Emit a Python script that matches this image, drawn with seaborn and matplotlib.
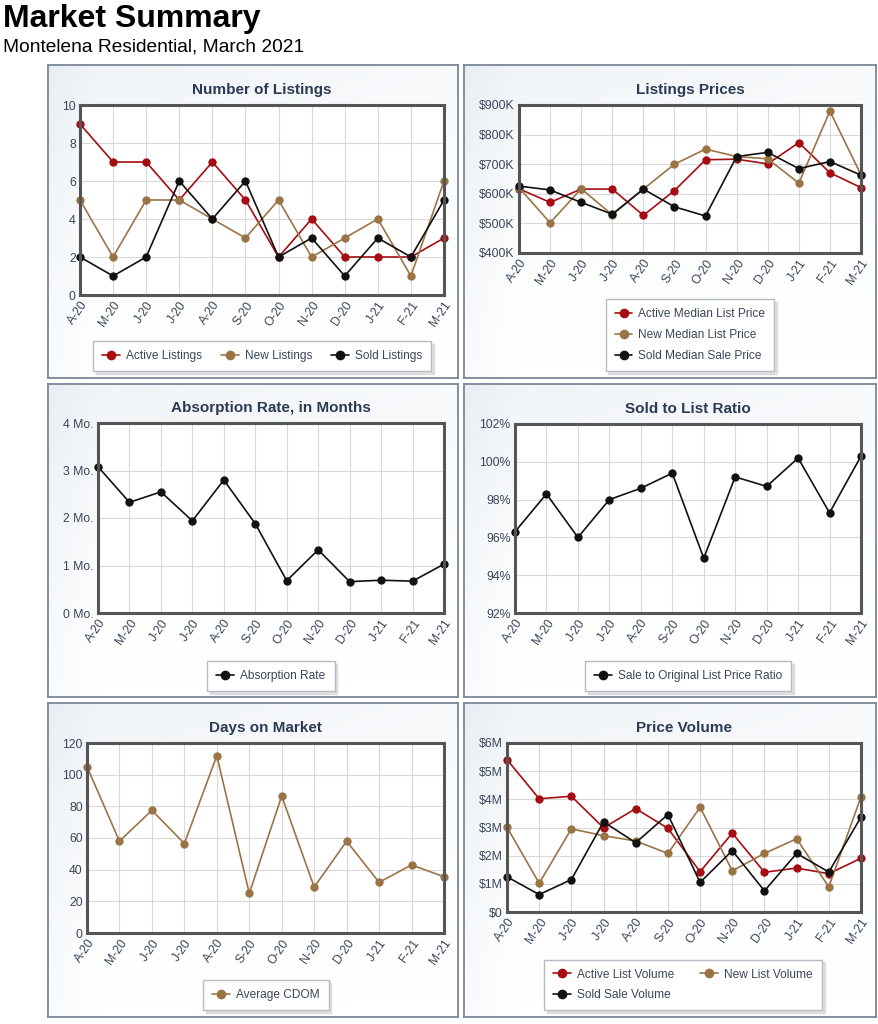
import numpy as np
import pandas as pd
import matplotlib
matplotlib.use("Agg")
import matplotlib.pyplot as plt
import seaborn as sns
from matplotlib.lines import Line2D
from matplotlib.ticker import FuncFormatter
from matplotlib.colors import LinearSegmentedColormap
from matplotlib.transforms import ScaledTranslation

# ---------------- data ----------------
months = ["A-20", "M-20", "J-20", "J-20", "A-20", "S-20", "O-20", "N-20", "D-20", "J-21", "F-21", "M-21"]

active_listings = [9, 7, 7, 5, 7, 5, 2, 4, 2, 2, 2, 3]
new_listings = [5, 2, 5, 5, 4, 3, 5, 2, 3, 4, 1, 6]
sold_listings = [2, 1, 2, 6, 4, 6, 2, 3, 1, 3, 2, 5]

# thousands of dollars
active_median_price = [617, 571, 616, 616, 527, 611, 715, 717, 701, 773, 671, 621]
new_median_price = [621, 502, 617, 529, 616, 700, 751, 726, 718, 636, 879, 664]
sold_median_price = [626, 613, 571, 531, 616, 556, 525, 726, 740, 685, 709, 663]

absorption_rate = [3.08, 2.33, 2.55, 1.94, 2.80, 1.88, 0.68, 1.33, 0.66, 0.69, 0.67, 1.03]

sale_to_list_ratio = [96.3, 98.3, 96.0, 98.0, 98.6, 99.4, 94.9, 99.2, 98.7, 100.2, 97.3, 100.3]

average_cdom = [105, 58, 77.5, 56.5, 112, 25, 86.5, 29, 58, 32, 43, 35.5]

# millions of dollars
active_list_volume = [5.41, 4.02, 4.11, 2.99, 3.67, 2.97, 1.43, 2.80, 1.41, 1.56, 1.36, 1.91]
new_list_volume = [3.01, 1.02, 2.95, 2.71, 2.52, 2.08, 3.72, 1.46, 2.08, 2.60, 0.89, 4.09]
sold_sale_volume = [1.25, 0.62, 1.15, 3.20, 2.46, 3.46, 1.05, 2.18, 0.75, 2.08, 1.42, 3.37]

RED = "#a50d12"
BROWN = "#9b7446"
BLACK = "#111111"

# ---------------- style ----------------
sns.set_theme(style="white")
plt.rcParams["font.family"] = ["Liberation Sans", "DejaVu Sans"]

W, H = 879, 1024
fig = plt.figure(figsize=(W / 100, H / 100), dpi=100)
fig.patch.set_facecolor("white")

TICK_COLOR = "#3a4657"
TITLE_COLOR = "#2b3a55"


def rect(x0, y0, x1, y1):
    return [x0 / W, 1 - y1 / H, (x1 - x0) / W, (y1 - y0) / H]


grad_cmap = LinearSegmentedColormap.from_list("bg", ["#ffffff", "#e3eaf2"])


def panel_bg(x0, y0, x1, y1):
    bg = fig.add_axes(rect(x0, y0, x1, y1), zorder=0)
    yy, xx = np.mgrid[0:1:120j, 0:1:120j]
    # lighter towards bottom-centre, faintly bluish towards top-left / edges
    val = 0.55 * (1 - yy) ** 1.5 * (1 - 0.5 * xx) + 0.25 * np.clip(0.12 - xx, 0, None) / 0.12
    val = np.clip(val, 0, 1)
    bg.imshow(val, extent=[0, 1, 0, 1], aspect="auto", cmap=grad_cmap, vmin=0, vmax=1, origin="upper")
    bg.set_xticks([])
    bg.set_yticks([])
    for s in bg.spines.values():
        s.set_color("#7b8796")
        s.set_linewidth(1.3)
    return bg


def make_panel(box, axbox, title, series, ylim, yticks, fmt, legend_center, ncol, legend_order=None,
               colspace=2.2):
    panel_bg(*box)
    ax = fig.add_axes(rect(*axbox), zorder=1)
    ax.set_facecolor("white")
    frames = []
    names = []
    palette = {}
    for name, vals, color in series:
        frames.append(pd.DataFrame({"x": np.arange(len(months)), "value": vals, "series": name}))
        names.append(name)
        palette[name] = color
    df = pd.concat(frames, ignore_index=True)
    sns.lineplot(data=df, x="x", y="value", hue="series", hue_order=names, palette=palette,
                 marker="o", markersize=6, markeredgewidth=0, linewidth=1.2,
                 legend=False, ax=ax, clip_on=False, zorder=3)
    ax.set_xlim(0, len(months) - 1)
    ax.set_ylim(*ylim)
    ax.set_yticks(yticks)
    ax.yaxis.set_major_formatter(FuncFormatter(fmt))
    ax.set_xticks(np.arange(len(months)))
    ax.set_xticklabels(months, rotation=55, ha="right", va="top", rotation_mode="anchor")
    off = ScaledTranslation(6 / 100, 0, fig.dpi_scale_trans)
    for lab in ax.get_xticklabels():
        lab.set_transform(lab.get_transform() + off)
    ax.set_xlabel("")
    ax.set_ylabel("")
    ax.tick_params(axis="both", length=0, labelsize=8.8, labelcolor=TICK_COLOR)
    ax.tick_params(axis="x", pad=3)
    ax.tick_params(axis="y", pad=3)
    ax.grid(True, color="#d9d9d9", linewidth=0.8)
    ax.set_axisbelow(True)
    for s in ax.spines.values():
        s.set_visible(True)
        s.set_color("#555555")
        s.set_linewidth(2.2)
        s.set_zorder(4)
    ax.set_title(title, fontsize=11, fontweight="bold", color=TITLE_COLOR, pad=8)

    handles = [Line2D([], [], color=c, marker="o", markersize=7, markeredgewidth=0, linewidth=1.2, label=n)
               for n, _, c in series]
    if legend_order is not None:
        handles = [handles[i] for i in legend_order]
    cx, cy = legend_center
    leg = ax.legend(handles=handles, loc="center", bbox_to_anchor=(cx / W, 1 - cy / H),
                    bbox_transform=fig.transFigure, ncol=ncol, frameon=True, fancybox=False,
                    shadow={"ox": 2, "oy": -2, "shade": 0.22}, fontsize=8.6, handlelength=1.5,
                    handletextpad=0.5, columnspacing=colspace, labelspacing=0.75, borderpad=0.75)
    leg.get_frame().set_edgecolor("#b5bcc6")
    leg.get_frame().set_linewidth(1.0)
    for t in leg.get_texts():
        t.set_color(TICK_COLOR)
    return ax


# ---------------- titles ----------------
fig.text(3 / W, 1 - 27 / H, "Market Summary", fontsize=23, fontweight="bold", color="black", va="baseline")
fig.text(3 / W, 1 - 52 / H, "Montelena Residential, March 2021", fontsize=13.8, color="black", va="baseline")

# ---------------- panels ----------------
make_panel((48, 65, 458, 378), (80, 105, 444, 295), "Number of Listings",
           [("Active Listings", active_listings, RED),
            ("New Listings", new_listings, BROWN),
            ("Sold Listings", sold_listings, BLACK)],
           (0, 10), [0, 2, 4, 6, 8, 10], lambda v, p: f"{v:.0f}", (262, 356), 3, colspace=1.6)

make_panel((464, 65, 876, 378), (519, 105, 861, 253), "Listings Prices",
           [("Active Median List Price", active_median_price, RED),
            ("New Median List Price", new_median_price, BROWN),
            ("Sold Median Sale Price", sold_median_price, BLACK)],
           (400, 900), [400, 500, 600, 700, 800, 900], lambda v, p: f"${v:.0f}K", (690, 335), 1)

make_panel((48, 384, 458, 697), (98, 423, 444, 613), "Absorption Rate, in Months",
           [("Absorption Rate", absorption_rate, BLACK)],
           (0, 4), [0, 1, 2, 3, 4], lambda v, p: f"{v:.0f} Mo.", (271, 676), 1)

make_panel((464, 384, 876, 697), (515, 424, 861, 613), "Sold to List Ratio",
           [("Sale to Original List Price Ratio", sale_to_list_ratio, BLACK)],
           (92, 102), [92, 94, 96, 98, 100, 102], lambda v, p: f"{v:.0f}%", (688, 676), 1)

make_panel((48, 703, 458, 1017), (87, 743, 444, 933), "Days on Market",
           [("Average CDOM", average_cdom, BROWN)],
           (0, 120), [0, 20, 40, 60, 80, 100, 120], lambda v, p: f"{v:.0f}", (266, 995), 1)

make_panel((464, 703, 876, 1017), (507, 743, 861, 912), "Price Volume",
           [("Active List Volume", active_list_volume, RED),
            ("New List Volume", new_list_volume, BROWN),
            ("Sold Sale Volume", sold_sale_volume, BLACK)],
           (0, 6), [0, 1, 2, 3, 4, 5, 6], lambda v, p: "$0" if v == 0 else f"${v:.0f}M", (683, 985), 2,
           legend_order=[0, 2, 1])

fig.savefig("out.png", dpi=100, facecolor="white")
